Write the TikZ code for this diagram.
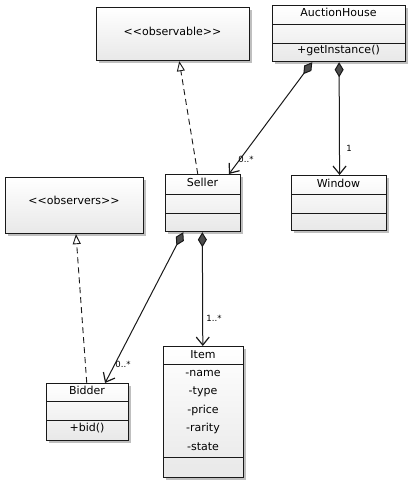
\documentclass[tikz,border=0pt]{standalone}
\usepackage{fontspec}
\setmainfont{DejaVu Sans}
\usetikzlibrary{arrows.meta,shadows,calc}
\begin{document}
\begin{tikzpicture}[x=1pt,y=-1pt,
  classbox/.style={draw=black!90,line width=1.2pt,rectangle,anchor=north west,inner sep=0pt,
    top color=white,bottom color=black!9,
    drop shadow={shadow xshift=2.5pt,shadow yshift=-2.5pt,opacity=0.25,fill=black}},
  sep/.style={draw=black!90,line width=1pt},
  ttl/.style={font=\fontsize{11}{12}\selectfont,inner sep=0pt,anchor=mid},
  mult/.style={font=\fontsize{8.5}{9}\selectfont,inner sep=0pt},
  comp/.style={draw=black!90,line width=1pt,
    {Diamond[length=15pt,width=9pt,fill=black!70]}-{Straight Barb[length=8pt,width=13pt,line width=1.2pt]}},
  real/.style={draw=black!90,line width=0.9pt,dash pattern=on 6pt off 4pt,
    -{Triangle[open,length=10pt,width=8pt,fill=white]}}]
\useasboundingbox (0,0) rectangle (410,482);

% classes
\node[classbox,minimum width=153pt,minimum height=53pt] (observable) at (96,7) {};
\node[ttl] (observablet) at (172.5,33) {<{}<observable>{}>};

\node[classbox,minimum width=133pt,minimum height=56pt] (auction) at (272,5) {};
\draw[sep] (272,24) -- (405,24);
\draw[sep] (272,43) -- (405,43);
\node[ttl] (auctiont) at (338.5,14) {AuctionHouse};
\node[ttl] (auctionm) at (338.5,51) {+getInstance()};

\node[classbox,minimum width=75pt,minimum height=57pt] (seller) at (165,174) {};
\draw[sep] (165,194) -- (240,194);
\draw[sep] (165,213) -- (240,213);
\node[ttl] (sellert) at (202.5,184) {Seller};

\node[classbox,minimum width=95pt,minimum height=55pt] (window) at (291,175) {};
\draw[sep] (291,194) -- (386,194);
\draw[sep] (291,213) -- (386,213);
\node[ttl] (windowt) at (338.5,185) {Window};

\node[classbox,minimum width=138pt,minimum height=56pt] (observers) at (5,177) {};
\node[ttl] (observerst) at (74,202) {<{}<observers>{}>};

\node[classbox,minimum width=82pt,minimum height=57pt] (bidder) at (46,383) {};
\draw[sep] (46,401) -- (128,401);
\draw[sep] (46,420) -- (128,420);
\node[ttl] (biddert) at (87,392) {Bidder};
\node[ttl] (bidderm) at (87,429) {+bid()};

\node[classbox,minimum width=80pt,minimum height=131pt] (item) at (163,346) {};
\draw[sep] (163,364) -- (243,364);
\draw[sep] (163,457) -- (243,457);
\node[ttl] (itemt) at (203,356) {Item};
\node[ttl] (ia) at (203,374) {-name};
\node[ttl] (ib) at (203,392) {-type};
\node[ttl] (ic) at (203,411) {-price};
\node[ttl] (id) at (203,429) {-rarity};
\node[ttl] (ie) at (203,448) {-state};

% connectors
\coordinate (a1) at ($(auction.south west)!0.30!(auction.south east)$);
\coordinate (a2) at ($(auction.south west)!0.50!(auction.south east)$);
\coordinate (s1) at ($(seller.north west)!0.84!(seller.north east)$);
\coordinate (s2) at ($(seller.north west)!0.43!(seller.north east)$);
\coordinate (s3) at ($(seller.south west)!0.24!(seller.south east)$);
\coordinate (s4) at ($(seller.south west)!0.49!(seller.south east)$);
\coordinate (o1) at ($(observable.south west)!0.54!(observable.south east)$);
\coordinate (w1) at ($(window.north west)!0.505!(window.north east)$);
\coordinate (b1) at ($(bidder.north west)!0.71!(bidder.north east)$);
\coordinate (b2) at ($(bidder.north west)!0.49!(bidder.north east)$);
\coordinate (r1) at ($(observers.south west)!0.51!(observers.south east)$);
\coordinate (i1) at ($(item.north west)!0.49!(item.north east)$);

\draw[comp] (a1) -- (s1);
\draw[comp] (a2) -- (w1);
\draw[real] (s2) -- (o1);
\draw[comp] (s3) -- (b1);
\draw[comp] (s4) -- (i1);
\draw[real] (b2) -- (r1);

\node[mult] (m1) at (246,159) {0..*};
\node[mult] (m2) at (349,148) {1};
\node[mult] (m3) at (123,364) {0..*};
\node[mult] (m4) at (214,318) {1..*};
\end{tikzpicture}
\end{document}
